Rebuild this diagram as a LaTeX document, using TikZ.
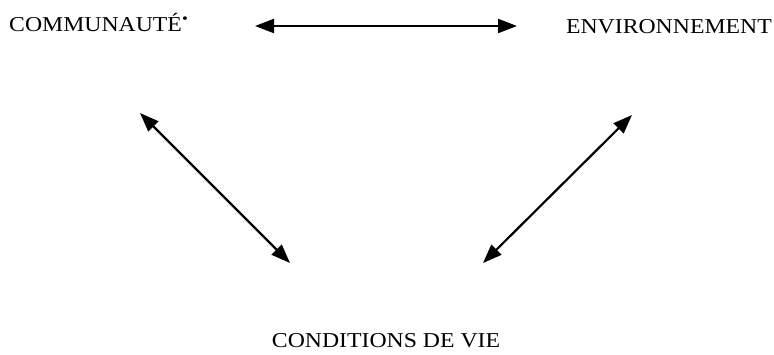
\documentclass[tikz,border=0pt]{standalone}
\usepackage{fontspec}
\setmainfont{Liberation Serif}[FakeStretch=1.12]
\usepackage{tikz}
\usetikzlibrary{arrows.meta, positioning}

\begin{document}
\begin{tikzpicture}[
    x=1pt, y=-1pt,
    label/.style={inner sep=0pt, font=\fontsize{21.2}{24}\selectfont},
    arrow/.style={{Triangle[length=19pt,width=14pt]}-{Triangle[length=19pt,width=14pt]}, line width=2.2pt}
]
\useasboundingbox (0,0) rectangle (774,354);

% Labels
\node[label, anchor=base west] (communaute) at (9,31) {COMMUNAUTÉ\textsuperscript{•}};
\node[label, anchor=base east] (environnement) at (772,33) {ENVIRONNEMENT};
\node[label, anchor=base] (conditions) at (386,347) {CONDITIONS DE VIE};

% Arrow ends
\coordinate (hleft) at (255,26);
\coordinate (hright) at (517,26);
\coordinate (ltop) at (140,113);
\coordinate (lbot) at (290,263);
\coordinate (rtop) at (632,115);
\coordinate (rbot) at (483,263);

% Arrows
\draw[arrow] (hleft) -- (hright);
\draw[arrow] (ltop) -- (lbot);
\draw[arrow] (rtop) -- (rbot);
\end{tikzpicture}
\end{document}
